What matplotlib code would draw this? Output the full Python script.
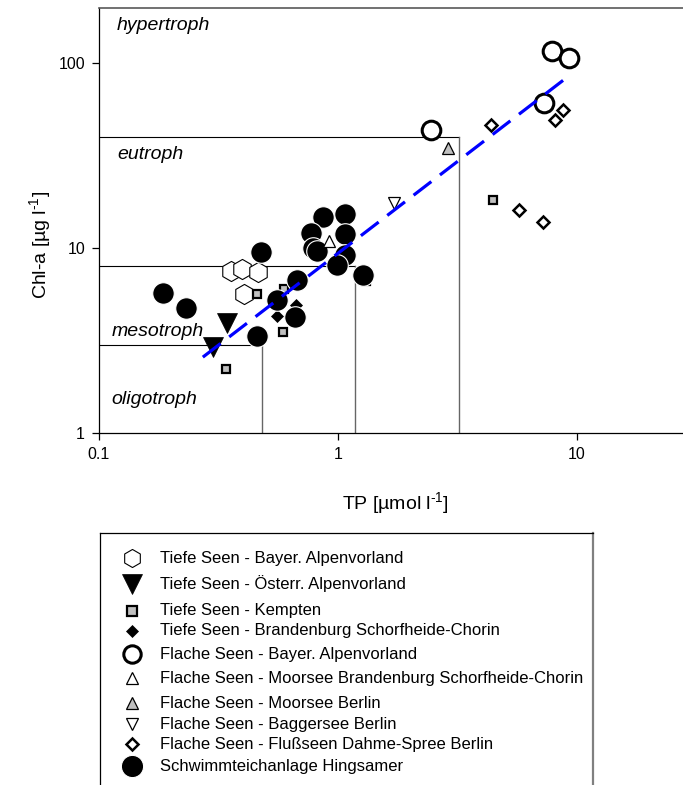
import matplotlib
matplotlib.use('Agg')
import matplotlib.pyplot as plt
from matplotlib.ticker import FixedLocator, FixedFormatter, NullLocator

plt.rcParams['font.family'] = ['Liberation Sans', 'DejaVu Sans']
plt.rcParams['mathtext.fontset'] = 'custom'
plt.rcParams['mathtext.rm'] = 'Liberation Sans'
plt.rcParams['mathtext.default'] = 'regular'

# TP [umol/l] vs Chl-a [ug/l]
tiefe_bayer_tp = [0.356, 0.396, 0.462, 0.405]
tiefe_bayer_chl = [7.51, 7.70, 7.42, 5.64]

tiefe_oesterr_tp = [0.344, 0.300]
tiefe_oesterr_chl = [3.93, 2.92]

kempten_tp = [0.458, 0.589, 0.340, 4.45, 1.31, 0.594]
kempten_chl = [5.64, 3.52, 2.22, 18.2, 6.63, 6.0]

tiefe_brb_tp = [0.556, 0.667]
tiefe_brb_chl = [4.29, 4.92]

flach_bayer_tp = [2.45, 7.86, 9.26, 7.28]
flach_bayer_chl = [43.4, 116, 106, 60.8]

moor_brb_tp = [0.916]
moor_brb_chl = [10.9]

moor_berlin_tp = [2.89]
moor_berlin_chl = [34.7]

bagger_tp = [1.71]
bagger_chl = [17.5]

fluss_tp = [4.37, 8.74, 8.09, 5.72, 7.21]
fluss_chl = [46.2, 55.7, 49.2, 16.0, 13.8]

hingsamer_tp = [0.477, 0.185, 0.231, 0.458, 0.556, 0.661, 0.673, 0.865,
                1.07, 0.771, 1.07, 0.785, 0.817, 1.07, 0.99, 1.27]
hingsamer_chl = [9.51, 5.71, 4.74, 3.35, 5.24, 4.24, 6.71, 14.7,
                 15.3, 12.05, 11.9, 10.0, 9.63, 9.17, 8.09, 7.14]

# regression line end points
reg_tp = [0.272, 9.36]
reg_chl = [2.57, 86]

# trophic class limits
tp_limits = [0.48, 1.18, 3.2]
chl_limits = [3, 8, 40]
trophic_labels = ['hypertroph', 'eutroph', 'mesotroph', 'oligotroph']

grey = '#c0c0c0'
styles = {
    'hex': dict(marker='h', ms=14.5, mfc='white', mec='black', mew=0.8),
    'vfill': dict(marker='v', ms=15, mfc='black', mec='black', mew=0.5),
    'sq': dict(marker='s', ms=6.3, mfc=grey, mec='black', mew=1.6),
    'dfill': dict(marker='D', ms=6, mfc='black', mec='black', mew=0.5),
    'obig': dict(marker='o', ms=13.4, mfc='white', mec='black', mew=2.2),
    'tri': dict(marker='^', ms=8.5, mfc='white', mec='black', mew=0.9),
    'trig': dict(marker='^', ms=9, mfc=grey, mec='black', mew=0.9),
    'vopen': dict(marker='v', ms=8.5, mfc='white', mec='black', mew=0.9),
    'dopen': dict(marker='D', ms=5.8, mfc='white', mec='black', mew=1.8),
    'ofill': dict(marker='o', ms=15.5, mfc='black', mec='white', mew=0.8),
}

groups = [
    ('hex', tiefe_bayer_tp, tiefe_bayer_chl),
    ('sq', kempten_tp, kempten_chl),
    ('dfill', tiefe_brb_tp, tiefe_brb_chl),
    ('vfill', tiefe_oesterr_tp, tiefe_oesterr_chl),
    ('ofill', hingsamer_tp, hingsamer_chl),
    ('tri', moor_brb_tp, moor_brb_chl),
    ('trig', moor_berlin_tp, moor_berlin_chl),
    ('vopen', bagger_tp, bagger_chl),
    ('dopen', fluss_tp, fluss_chl),
    ('obig', flach_bayer_tp, flach_bayer_chl),
]

fig = plt.figure(figsize=(6.83, 7.85), dpi=100)
ax = fig.add_axes([99/683, 352/785, 584/683, 425/785])
ax.set_xscale('log')
ax.set_yscale('log')
ax.set_xlim(0.1, 27.8)
ax.set_ylim(1, 198)

# trophic class boxes
for tp, chl in zip(tp_limits, chl_limits):
    ax.plot([0.1, tp], [chl, chl], color='black', lw=0.8, zorder=1)
    ax.plot([tp, tp], [1, chl], color='0.4', lw=1.0, zorder=1)

for key, xs, ys in groups:
    ax.plot(xs, ys, ls='none', zorder=3, **styles[key])

ax.plot(reg_tp, reg_chl, color='#0000ff', lw=2.3, dashes=(7, 3.4), zorder=5)

lab_pos = [(0.031, 0.96), (0.031, 0.655), (0.022, 0.24), (0.022, 0.078)]
for txt, (tx, ty) in zip(trophic_labels, lab_pos):
    ax.text(tx, ty, txt, transform=ax.transAxes, fontsize=14, style='italic',
            ha='left', va='center')

for s in ['left', 'bottom']:
    ax.spines[s].set_linewidth(0.9)
ax.spines['top'].set_color('0.35')
ax.spines['top'].set_linewidth(1.2)
ax.spines['right'].set_visible(False)

ax.xaxis.set_major_locator(FixedLocator([0.1, 1, 10]))
ax.xaxis.set_major_formatter(FixedFormatter(['0.1', '1', '10']))
ax.yaxis.set_major_locator(FixedLocator([1, 10, 100]))
ax.yaxis.set_major_formatter(FixedFormatter(['1', '10', '100']))
ax.xaxis.set_minor_locator(NullLocator())
ax.yaxis.set_minor_locator(NullLocator())
ax.tick_params(direction='out', length=5, width=0.9, labelsize=11.5, pad=5)

fig.text(40/683, 1 - 245/785, 'Chl-a [µg l$^{\u2010 1}$]', rotation=90,
         ha='center', va='center', fontsize=14)
fig.text(395/683, 1 - 503/785, 'TP [µmol l$^{\u2010 1}$]',
         ha='center', va='center', fontsize=14)

# legend drawn by hand
legend_labels = [
    ('hex', 'Tiefe Seen - Bayer. Alpenvorland'),
    ('vfill', 'Tiefe Seen - Österr. Alpenvorland'),
    ('sq', 'Tiefe Seen - Kempten'),
    ('dfill', 'Tiefe Seen - Brandenburg Schorfheide-Chorin'),
    ('obig', 'Flache Seen - Bayer. Alpenvorland'),
    ('tri', 'Flache Seen - Moorsee Brandenburg Schorfheide-Chorin'),
    ('trig', 'Flache Seen - Moorsee Berlin'),
    ('vopen', 'Flache Seen - Baggersee Berlin'),
    ('dopen', 'Flache Seen - Flußseen Dahme-Spree Berlin'),
    ('ofill', 'Schwimmteichanlage Hingsamer'),
]
leg_size = {'hex': 13, 'vfill': 14, 'sq': 6.5, 'dfill': 6, 'obig': 12.5,
            'tri': 8, 'trig': 8, 'vopen': 8, 'dopen': 6, 'ofill': 16}
row_y = [25, 51, 78, 98, 121, 145, 170, 191, 211, 233]

lax = fig.add_axes([100/683, 0, 493/683, 252/785])
lax.set_xlim(0, 493)
lax.set_ylim(252, 0)
lax.set_xticks([])
lax.set_yticks([])
lax.spines['bottom'].set_visible(False)
lax.spines['right'].set_color('0.5')
lax.spines['right'].set_linewidth(1.6)
lax.spines['top'].set_linewidth(0.9)
lax.spines['left'].set_linewidth(0.9)
for (key, label), y in zip(legend_labels, row_y):
    st = dict(styles[key])
    st['ms'] = leg_size[key]
    lax.plot([32], [y], ls='none', **st)
    lax.text(60, y, label, fontsize=12, ha='left', va='center')

fig.savefig('out.png', dpi=100)
